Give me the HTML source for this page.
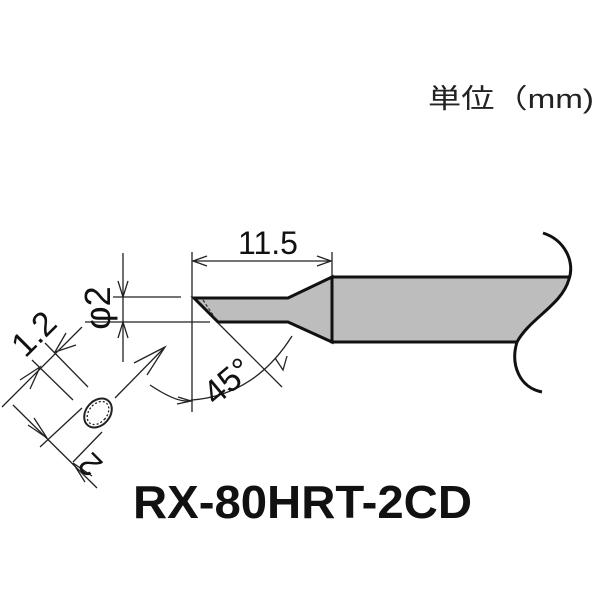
<!DOCTYPE html>
<html><head><meta charset="utf-8"><style>
html,body{margin:0;padding:0;background:#fff;}
svg{display:block;}
</style></head><body>
<svg width="600" height="600" viewBox="0 0 600 600" xmlns="http://www.w3.org/2000/svg">
<rect width="600" height="600" fill="#fff"/>
<text x="428" y="108" font-family="'Liberation Sans','Noto Sans CJK JP',sans-serif" font-size="27" fill="#222" textLength="166" lengthAdjust="spacingAndGlyphs">単位（mm)</text>

<path d="M194,298 L288,298 L332,277 L332,342 L288,322 L218,322 Z" fill="#bdbdbd" stroke="#111" stroke-width="3" stroke-linejoin="miter"/>
<path d="M332,277 L569,277 C562,305 530,318 517,342 L332,342 Z" fill="#bdbdbd" stroke="none"/>
<path d="M332,277 L569,277 M517,342 L332,342 L332,277" fill="none" stroke="#111" stroke-width="3"/>
<path d="M543,233 C565,240 575,262 569,279 C562,305 530,318 517,342" fill="none" stroke="#111" stroke-width="3"/>
<path d="M517,342 C510,365 520,388 542,392" fill="none" stroke="#111" stroke-width="3"/>
<path d="M203,300 L215,318" stroke="#333" stroke-width="1.2" stroke-dasharray="3,2"/>

<g stroke="#222" stroke-width="1.3" fill="none">
<line x1="192" y1="252" x2="192" y2="412"/>
<line x1="332" y1="252" x2="332" y2="276"/>
<line x1="193" y1="261" x2="331" y2="261"/>
<path d="M207,256 L193,261 L207,266 M317,256 L331,261 L317,266"/>
<line x1="113" y1="297" x2="181" y2="297"/>
<line x1="85" y1="322" x2="210" y2="322"/>
<line x1="123" y1="253" x2="123" y2="362"/>
<path d="M118,281 L123,297 L128,281 M118,338 L123,322 L128,338"/>
<line x1="218" y1="323" x2="282" y2="387"/>
<path d="M150,385 Q180,405 192,400 Q255,395 292,336"/>
<path d="M178,397 L191,401 L177,404 M275,358 L283,370 L287,356"/>
<ellipse cx="98" cy="413" rx="12" ry="16" transform="rotate(40 98 413)" stroke-width="2"/>
<ellipse cx="98" cy="413" rx="9" ry="13" transform="rotate(40 98 413)" stroke-dasharray="2,2"/>
<line x1="115" y1="398" x2="165" y2="347"/>
<path d="M134,363 L165,347 L147,375"/>
<line x1="45" y1="343" x2="88" y2="387"/>
<line x1="32" y1="360" x2="73" y2="400"/>
<line x1="2" y1="407" x2="82" y2="327"/>
<path d="M20,380 L40,367 L30,389 M76,345 L55,352 L66,333"/>
<line x1="40" y1="447" x2="82" y2="408"/>
<line x1="73" y1="462" x2="102" y2="432"/>
<line x1="13" y1="405" x2="97" y2="488"/>
<path d="M28,425 L47,438 L34,418 M92,476 L73,463 L85,482"/>
</g>

<g font-family="'Liberation Sans',sans-serif" fill="#111">
<text x="268" y="254" font-size="32" text-anchor="middle">11.5</text>
<text transform="translate(110,308) rotate(-90)" font-size="36" text-anchor="middle">φ2</text>
<text transform="translate(42,342) rotate(-45)" font-size="34" text-anchor="middle">1.2</text>
<text transform="translate(98,457) rotate(-135)" font-size="32" text-anchor="middle">2</text>
<text transform="translate(235,390) rotate(-40)" font-size="34" text-anchor="middle">45°</text>
<text x="133" y="518" font-size="46" font-weight="bold" textLength="339" lengthAdjust="spacingAndGlyphs">RX-80HRT-2CD</text>
</g>
</svg>
</body></html>
